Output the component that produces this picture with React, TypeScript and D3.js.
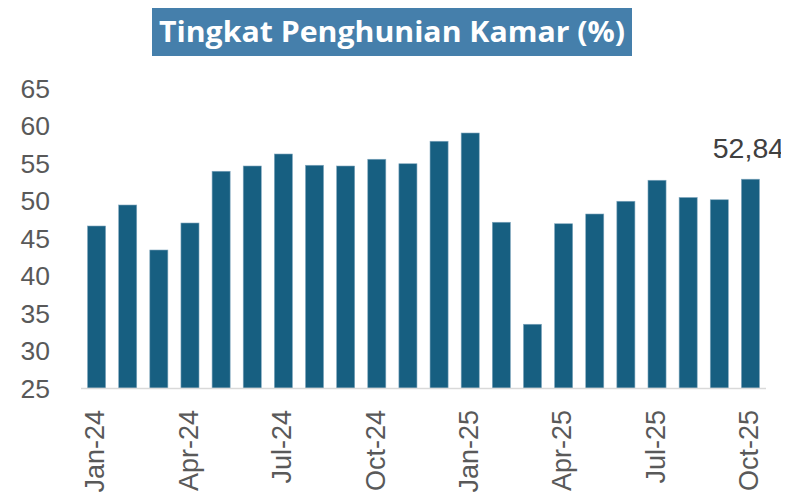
import { useRef, useEffect } from "react";
import * as d3 from "d3";

const months = [
  "Jan-24", "Feb-24", "Mar-24", "Apr-24", "May-24", "Jun-24", "Jul-24", "Aug-24",
  "Sep-24", "Oct-24", "Nov-24", "Dec-24", "Jan-25", "Feb-25", "Mar-25", "Apr-25",
  "May-25", "Jun-25", "Jul-25", "Aug-25", "Sep-25", "Oct-25",
];
const tpk = [
  46.6, 49.4, 43.4, 47.0, 53.9, 54.6, 56.2, 54.7, 54.6, 55.5, 54.9, 57.9,
  59.0, 47.1, 33.5, 46.9, 48.2, 49.9, 52.7, 50.4, 50.1, 52.84,
];
const shownLabels = ["Jan-24", "Apr-24", "Jul-24", "Oct-24", "Jan-25", "Apr-25", "Jul-25", "Oct-25"];
const yTicks = [25, 30, 35, 40, 45, 50, 55, 60, 65];
const title = "Tingkat Penghunian Kamar (%)";

const W = 789;
const H = 502;

const App = () => {
  const svgRef = useRef(null);

  useEffect(() => {
    const svg = d3.select(svgRef.current);
    svg.selectAll("*").remove();

    const font = "'Liberation Sans', Arial, sans-serif";
    const x = d3.scaleBand().domain(months).range([81, 766]).paddingInner(0.42).paddingOuter(0.21);
    const y = d3.scaleLinear().domain([25, 65]).range([388, 88]);

    // title box
    svg.append("rect")
      .attr("x", 152).attr("y", 6).attr("width", 480).attr("height", 50)
      .attr("fill", "#457fab");
    svg.append("text")
      .attr("x", 159).attr("y", 42)
      .attr("textLength", 466).attr("lengthAdjust", "spacingAndGlyphs")
      .attr("font-family", "'Open Sans', 'Noto Sans', sans-serif").attr("font-weight", "bold").attr("font-size", 29)
      .attr("fill", "#fff")
      .text(title);

    // y tick labels
    svg.append("g").selectAll("text").data(yTicks).join("text")
      .attr("x", 50).attr("y", (d) => y(d)).attr("dy", "0.36em")
      .attr("text-anchor", "end")
      .attr("font-family", font).attr("font-size", 26.5).attr("fill", "#595959")
      .text((d) => d);

    // bars
    svg.append("g").selectAll("rect").data(tpk).join("rect")
      .attr("x", (d, i) => x(months[i]))
      .attr("y", (d) => y(d))
      .attr("width", x.bandwidth())
      .attr("height", (d) => y(25) - y(d))
      .attr("fill", "#175f81")
      .attr("stroke", "#7fa6bd")
      .attr("stroke-width", 0.6);

    // baseline
    svg.append("line")
      .attr("x1", 81).attr("x2", 766).attr("y1", 388.5).attr("y2", 388.5)
      .attr("stroke", "#d9d9d9").attr("stroke-width", 1.5);

    // x labels
    svg.append("g").selectAll("text").data(shownLabels).join("text")
      .attr("transform", (d) => `translate(${x(d) + x.bandwidth() / 2 - 2},410) rotate(-90)`)
      .attr("dy", "0.36em")
      .attr("text-anchor", "end")
      .attr("font-family", font).attr("font-size", 27).attr("fill", "#595959")
      .text((d) => d);

    // last value label
    const last = tpk[tpk.length - 1];
    svg.append("text")
      .attr("x", x(months[months.length - 1]) + x.bandwidth() / 2 - 2)
      .attr("y", y(last) - 21)
      .attr("text-anchor", "middle")
      .attr("font-family", font).attr("font-size", 28.5).attr("fill", "#404040")
      .text(d3.format(".2f")(last).replace(".", ","));
  }, []);

  return <svg ref={svgRef} width={W} height={H} style={{ display: "block", margin: "-8px" }}></svg>;
};

export default App;
